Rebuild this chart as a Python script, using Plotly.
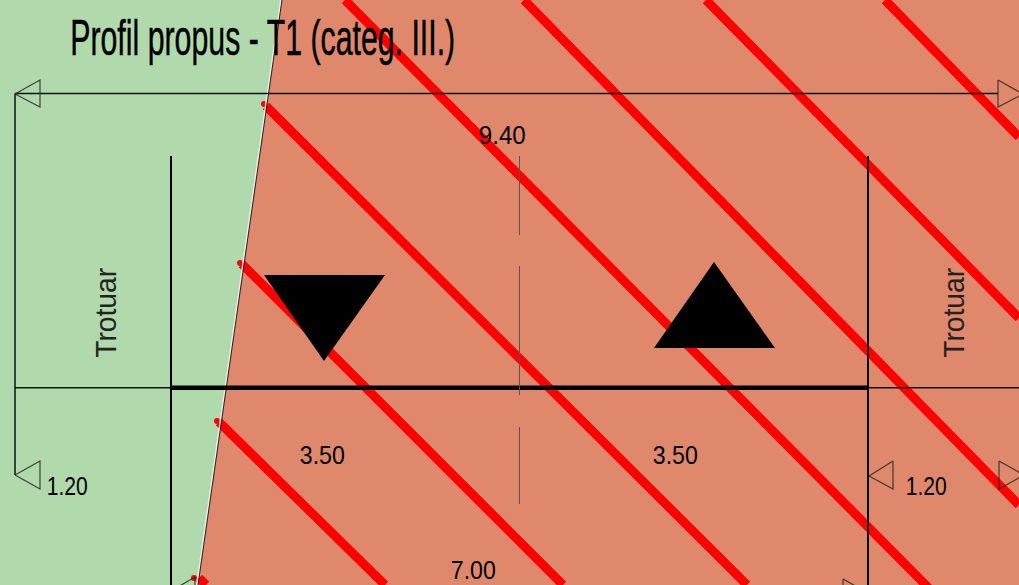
import json
import plotly.graph_objects as go

W, H = 1019, 585
GREEN = "#B0D9AC"
ORANGE = "#DF886C"

road_x = [282, 198, 1019, 1019, 282]
road_y = [0, 585, 585, 0, 0]

edge_x = [282, 198]
edge_y = [0, 585]

hatch_x = [[266, 747], [242, 563], [219, 385], [199, 206],
           [345, 1019], [524, 1019], [706, 1019], [885, 1019]]
hatch_y = [[106, 585], [264, 585], [422, 585], [578, 585],
           [0, 679], [0, 505], [0, 318], [0, 137]]

dot_x = [264, 240, 217, 194]
dot_y = [104, 263, 421, 578]

thin_x = [[15, 998], [15, 15], [15, 1019]]
thin_y = [[93.5, 93.5], [93.5, 475], [387.7, 387.7]]

post_x = [[171, 171], [868, 868]]
post_y = [[156, 585], [156, 585]]

axis_x = [171, 868]
axis_y = [387.7, 387.7]

centre_x = [[519.5, 519.5], [519.5, 519.5], [519.5, 519.5]]
centre_y = [[156, 235], [266, 395], [427, 504]]

arrow_x = [[15, 40, 40, 15], [998, 1023, 998, 998], [15, 40, 40, 15], [869, 893, 893, 869], [999, 1024, 999, 999], [843, 868, 843, 843], [171, 195, 195, 171]]
arrow_y = [[94, 80, 107, 94], [80, 94, 107, 80], [475, 461, 489, 475], [476, 461, 489, 476], [461, 475, 489, 461], [579, 593, 607, 579], [591, 577, 605, 591]]

dir_x = [[264, 385, 324, 264], [714, 654, 775, 714]]
dir_y = [[275, 275, 361, 275], [262, 348, 348, 262]]

title_text = "Profil propus - T1 (categ. III.)"
title_x, title_y = 262, 38

dim_labels = ["9.40", "3.50", "3.50", "7.00", "1.20", "1.20"]
dim_x = [502, 322, 675, 473, 67, 926]
dim_y = [135, 455, 455, 570, 486, 486]

side_labels = ["Trotuar", "Trotuar"]
side_x = [106, 954]
side_y = [313, 313]

SANS = "Liberation Sans"

fig = go.Figure()
fig.add_trace(go.Scatter(x=road_x, y=road_y, mode="lines", fill="toself", fillcolor=ORANGE, line=dict(width=0), hoverinfo="skip"))
for xs, ys in zip(hatch_x, hatch_y):
    fig.add_trace(go.Scatter(x=xs, y=ys, mode="lines", line=dict(color="#FF0000", width=9)))
fig.add_trace(go.Scatter(x=dot_x, y=dot_y, mode="markers", marker=dict(color="#FF0000", size=6)))
fig.add_trace(go.Scatter(x=[v - 1.2 for v in edge_x], y=edge_y, mode="lines", line=dict(color="#ececec", width=1.5)))
fig.add_trace(go.Scatter(x=edge_x, y=edge_y, mode="lines", line=dict(color="#222222", width=1)))
for xs, ys in zip(thin_x, thin_y):
    fig.add_trace(go.Scatter(x=xs, y=ys, mode="lines", line=dict(color="#111111", width=1.5)))
for xs, ys in zip(post_x, post_y):
    fig.add_trace(go.Scatter(x=xs, y=ys, mode="lines", line=dict(color="#000000", width=2)))
fig.add_trace(go.Scatter(x=axis_x, y=axis_y, mode="lines", line=dict(color="#000000", width=4.5)))
for xs, ys in zip(centre_x, centre_y):
    fig.add_trace(go.Scatter(x=xs, y=ys, mode="lines", line=dict(color="#555555", width=1)))
for xs, ys in zip(arrow_x, arrow_y):
    fig.add_trace(go.Scatter(x=xs, y=ys, mode="lines", line=dict(color="rgba(40,40,40,0.85)", width=1.2)))
for xs, ys in zip(dir_x, dir_y):
    fig.add_trace(go.Scatter(x=xs, y=ys, mode="lines", fill="toself", fillcolor="#000000", line=dict(color="#000000", width=0)))

lengths = []
fig.add_annotation(x=title_x, y=title_y, text=title_text, showarrow=False, xanchor="center", yanchor="middle",
                   font=dict(family=SANS, size=50, color="#000000"))
lengths.append(385)
dim_lengths = [47, 45, 45, 45, 41, 41]
for t, x, y, n in zip(dim_labels, dim_x, dim_y, dim_lengths):
    fig.add_annotation(x=x, y=y, text=t, showarrow=False, xanchor="center", yanchor="middle",
                       font=dict(family=SANS, size=26, color="#000000"))
    lengths.append(n)
for t, x, y in zip(side_labels, side_x, side_y):
    fig.add_annotation(x=x, y=y, text=t, showarrow=False, textangle=-90, xanchor="center", yanchor="middle",
                       font=dict(family=SANS, size=29, color="#222222"))
    lengths.append(90)

fig.update_layout(width=W, height=H, autosize=False, showlegend=False, margin=dict(l=0, r=0, t=0, b=0),
                  plot_bgcolor=GREEN, paper_bgcolor=GREEN,
                  xaxis=dict(range=[0, W], visible=False, fixedrange=True),
                  yaxis=dict(range=[H, 0], visible=False, fixedrange=True))

post = """
document.body.style.margin = '0';
document.documentElement.style.overflow = 'hidden';
var L = %s;
document.querySelectorAll('.annotation-text').forEach(function (t, i) {
  t.setAttribute('textLength', L[i]);
  t.setAttribute('lengthAdjust', 'spacingAndGlyphs');
  if (i === 0) { t.style.stroke = '#000'; t.style.strokeWidth = '0.5px'; }
});
""" % json.dumps(lengths)
fig.write_html("out.html", config=dict(displayModeBar=False), post_script=post)
